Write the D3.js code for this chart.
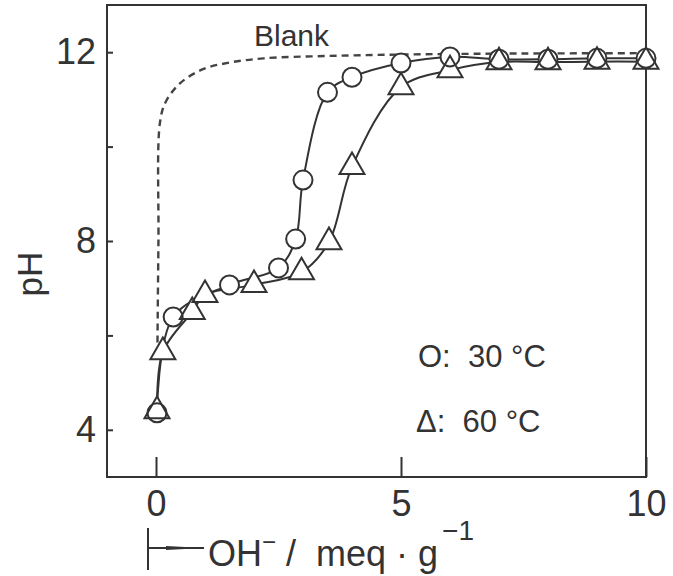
<!DOCTYPE html>
<html>
<head>
<meta charset="utf-8">
<script src="https://cdn.jsdelivr.net/npm/d3@7"></script>
<style>
  body { margin: 0; background: #fff; }
  svg text { font-family: "Liberation Sans", Arial, sans-serif; fill: #333; }
</style>
</head>
<body>
<div id="graph"></div>
<script>
// values
var blank = [[0.03, 5.85], [0.05, 8.0], [0.08, 10.5], [0.2, 10.95], [0.5, 11.35], [0.96, 11.64],
             [1.5, 11.78], [2.2, 11.87], [3.5, 11.92], [5, 11.95], [7, 11.97], [10, 11.98]]
var c30x = [0.02, 0.35, 1.5, 2.5, 2.85, 3.0, 3.5, 4.0, 5, 6, 7, 8, 9, 10]
var c30y = [4.36, 6.39, 7.07, 7.43, 8.04, 9.29, 11.15, 11.47, 11.77, 11.9, 11.85, 11.85, 11.87, 11.87]
var c60x = [0.02, 0.14, 0.74, 1.0, 2.0, 2.97, 3.53, 4.0, 5, 6, 7, 8, 9, 10]
var c60y = [4.4, 5.65, 6.5, 6.86, 7.07, 7.34, 7.98, 9.57, 11.26, 11.62, 11.79, 11.79, 11.8, 11.8]
var yTicks = [4, 6, 8, 10, 12]
var yLabels = [4, 8, 12]
var xTicks = [0, 5, 10]

var width = 673, height = 576
var svg = d3.select("#graph").append("svg").attr("width", width).attr("height", height)

var x = d3.scaleLinear().domain([-1, 10]).range([107, 646])
var y = d3.scaleLinear().domain([3, 13]).range([477, 5])

function zip(xs, ys) {
    return xs.map(function (v, i) { return [v, ys[i]] })
}
var s30 = zip(c30x, c30y), s60 = zip(c60x, c60y)

var line = d3.line().x(function (d) { return x(d[0]) }).y(function (d) { return y(d[1]) })
    .curve(d3.curveCatmullRom.alpha(0.5))

// frame
svg.append("rect").attr("x", x(-1)).attr("y", y(13))
    .attr("width", x(10) - x(-1)).attr("height", y(3) - y(13))
    .attr("fill", "none").attr("stroke", "#333").attr("stroke-width", 2)

// axes with inward ticks
var yAxis = d3.axisLeft(y).tickValues(yTicks).tickSizeInner(-6).tickSizeOuter(0).tickPadding(11)
    .tickFormat(function (d) { return yLabels.indexOf(d) >= 0 ? d : "" })
var gy = svg.append("g").attr("transform", "translate(" + x(-1) + ",0)").call(yAxis)
var xAxis = d3.axisBottom(x).tickValues(xTicks).tickSizeInner(-20).tickSizeOuter(0).tickPadding(13)
var gx = svg.append("g").attr("transform", "translate(0," + y(3) + ")").call(xAxis)
gy.select(".domain").remove()
gx.select(".domain").remove()
svg.selectAll(".tick line").attr("stroke", "#333").attr("stroke-width", 2)
svg.selectAll(".tick text").attr("font-size", 36).attr("fill", "#333")
    .style("font-family", '"Liberation Sans Narrow", "Liberation Sans", sans-serif')

// blank curve
svg.append("path").datum(blank).attr("d", line).attr("fill", "none")
    .attr("stroke", "#444").attr("stroke-width", 2.4).attr("stroke-dasharray", "7,5")

// sample curves
svg.append("path").datum(s30).attr("d", line).attr("fill", "none").attr("stroke", "#333").attr("stroke-width", 2)
svg.append("path").datum(s60).attr("d", line).attr("fill", "none").attr("stroke", "#333").attr("stroke-width", 2)

var tri = d3.symbol().type(d3.symbolTriangle).size(270)

function markers(fill, stroke) {
    svg.append("g").selectAll("circle").data(s30).join("circle")
        .attr("cx", function (d) { return x(d[0]) }).attr("cy", function (d) { return y(d[1]) })
        .attr("r", 9.5).attr("fill", fill).attr("stroke", stroke).attr("stroke-width", 2)
    svg.append("g").selectAll("path").data(s60).join("path")
        .attr("d", tri)
        .attr("transform", function (d) { return "translate(" + x(d[0]) + "," + y(d[1]) + ")" })
        .attr("fill", fill).attr("stroke", stroke).attr("stroke-width", 2)
}
markers("#fff", "none")
markers("none", "#333")

// labels
svg.append("text").attr("x", 254).attr("y", 46).attr("font-size", 30).text("Blank")

svg.append("text").attr("transform", "translate(42," + y(7.3) + ") rotate(-90)")
    .attr("text-anchor", "middle").attr("font-size", 35).text("pH")

var legend = svg.append("g").attr("font-size", 31)
legend.append("text").attr("x", 418).attr("y", 367).text("O:\u00a0\u00a030 °C")
legend.append("text").attr("x", 416).attr("y", 432).text("Δ:\u00a0\u00a060 °C")

// x axis title
var x0 = x(0) - 8
svg.append("line").attr("x1", x0).attr("x2", x0).attr("y1", 528).attr("y2", 570)
    .attr("stroke", "#333").attr("stroke-width", 2)
svg.append("line").attr("x1", x0).attr("x2", x0 + 56).attr("y1", 548).attr("y2", 548)
    .attr("stroke", "#333").attr("stroke-width", 2)
svg.append("path").attr("d", "M" + (x0 + 18) + ",546 L" + (x0 + 56) + ",548 L" + (x0 + 18) + ",550 Z")
    .attr("fill", "#333")
var title = svg.append("text").attr("x", 208).attr("y", 566).attr("font-size", 36)
title.append("tspan").text("OH")
title.append("tspan").attr("dy", -16).attr("font-size", 24).text("−")
title.append("tspan").attr("dy", 16).text("\u00a0/\u00a0\u00a0meq · g")
title.append("tspan").attr("dy", -26).attr("font-size", 28).attr("dx", 4).text("−1")
</script>
</body>
</html>
